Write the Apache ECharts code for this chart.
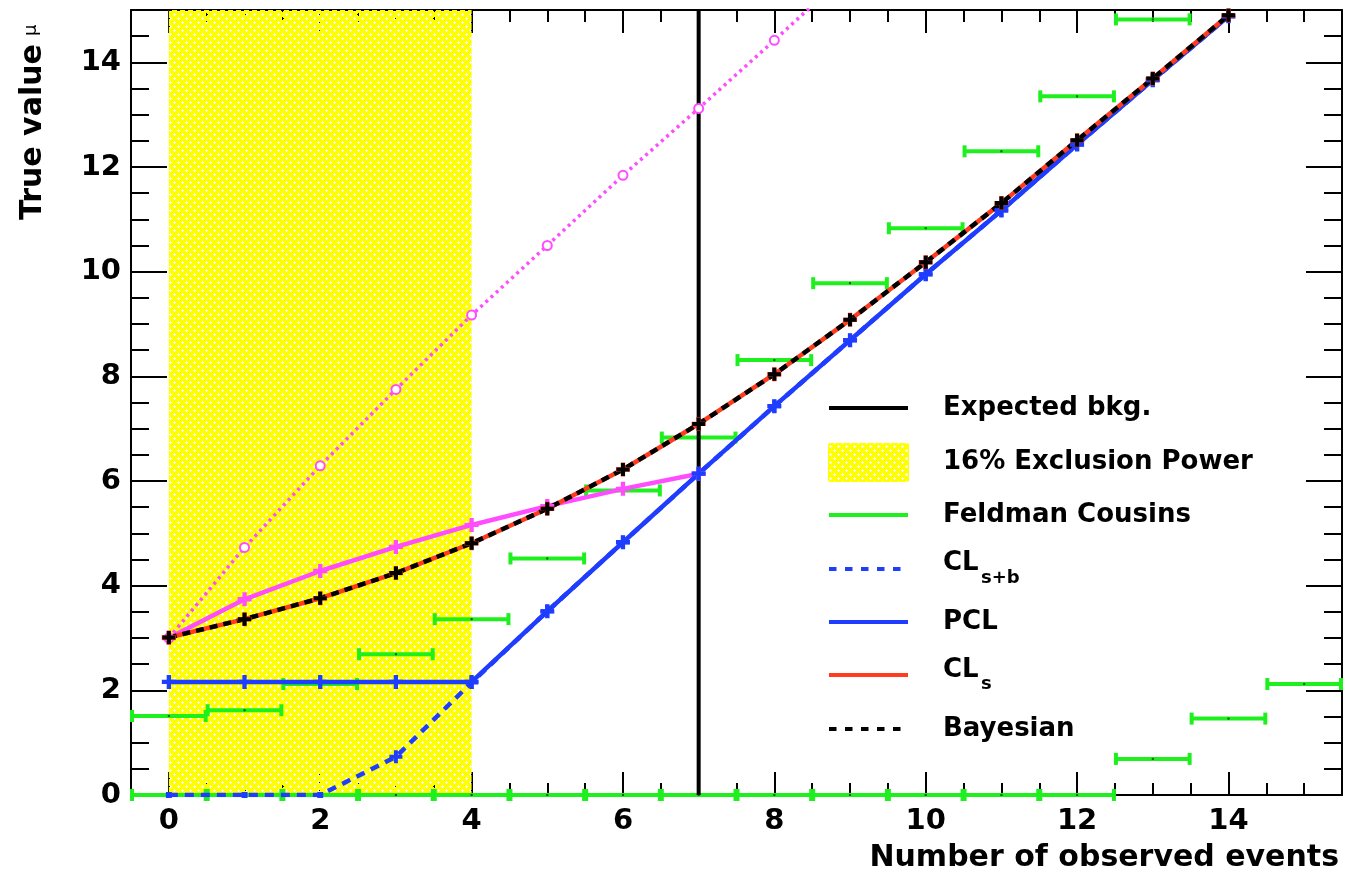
<!DOCTYPE html>
<html>
<head>
<meta charset="utf-8">
<script src="https://cdn.jsdelivr.net/npm/echarts@6/dist/echarts.min.js"></script>
<style>
  html, body { margin: 0; padding: 0; background: #ffffff; }
  #chart { width: 1346px; height: 878px; }
</style>
</head>
<body>
<div id="chart"></div>
<script>
// ---- data ----
const observedEvents = [0, 1, 2, 3, 4, 5, 6, 7, 8, 9, 10, 11, 12, 13, 14, 15];
const expectedBkg = 7;
const exclusionPowerRange = [0, 4];

const clsLimit      = [3.01, 3.36, 3.76, 4.24, 4.81, 5.47, 6.22, 7.09, 8.04, 9.08, 10.18, 11.31, 12.51, 13.69, 14.90];
const bayesianLimit = [3.01, 3.36, 3.76, 4.24, 4.81, 5.47, 6.22, 7.09, 8.04, 9.08, 10.18, 11.31, 12.51, 13.69, 14.90];
const clsbLimit     = [0, 0, 0, 0.73, 2.15, 3.51, 4.83, 6.14, 7.43, 8.69, 9.95, 11.17, 12.43, 13.66, 14.88];
const pclLimit      = [2.16, 2.16, 2.16, 2.16, 2.16, 3.51, 4.83, 6.14, 7.43, 8.69, 9.95, 11.17, 12.43, 13.66, 14.88];
const magentaLimit       = [3.00, 3.74, 4.28, 4.74, 5.16, 5.52, 5.85, 6.14];
const magentaDottedLimit = [3.00, 4.73, 6.29, 7.75, 9.17, 10.50, 11.84, 13.12, 14.42, 15.75];
const fcUpper = [1.51, 1.62, 2.12, 2.69, 3.36, 4.52, 5.82, 6.83, 8.31, 9.78, 10.83, 12.30, 13.35, 14.82];
const fcLower = [0, 0, 0, 0, 0, 0, 0, 0, 0, 0, 0, 0, 0, 0.69, 1.46, 2.12];

const xMajorTicks = [0, 2, 4, 6, 8, 10, 12, 14];
const yMajorTicks = [0, 2, 4, 6, 8, 10, 12, 14];

// ---- styling helpers ----
const FONT = '"DejaVu Sans", sans-serif';
const C_BLUE = '#1f3dff';
const C_RED = '#ff3c1e';
const C_GREEN = '#1ef01e';
const C_MAGENTA = '#ff4cff';
const LW = 4.5;

function minorsBetween(lo, hi, step, majors) {
  const out = [];
  for (let v = lo; v <= hi + 1e-9; v += step) {
    const r = Math.round(v * 100) / 100;
    if (!majors.includes(r)) out.push(r);
  }
  return out;
}
const xMinorTicks = minorsBetween(0, 15, 0.5, xMajorTicks);
const yMinorTicks = minorsBetween(0.5, 14.5, 0.5, yMajorTicks);

// Yellow hatch with transparent holes
function hatchPattern() {
  const c = document.createElement('canvas');
  c.width = 8; c.height = 8;
  const g = c.getContext('2d');
  g.fillStyle = '#ffff00';
  g.fillRect(0, 0, 8, 8);
  g.clearRect(1, 2, 3, 1); g.clearRect(2, 1, 1, 3);
  g.clearRect(5, 6, 3, 1); g.clearRect(6, 5, 1, 3);
  return c;
}
const hatch = { image: hatchPattern(), repeat: 'repeat' };

const plusSymbol = 'path://M4.5,0H8.5V4.5H13V8.5H8.5V13H4.5V8.5H0V4.5H4.5Z';

const pairs = (xs, ys) => ys.map((y, i) => [xs[i], y]);

function axisBase(pos, show) {
  const horiz = pos === 'bottom' || pos === 'top';
  return {
    type: 'value', position: pos, gridIndex: 0,
    min: horiz ? -0.5 : 0,
    max: horiz ? 15.5 : 15,
    splitLine: { show: false },
    axisLine: { show: show, onZero: false, lineStyle: { color: '#000', width: 2 } },
  };
}
function tickAxis(pos, values, len, labels, frame) {
  const a = axisBase(pos, !!frame);
  a.axisTick = { show: true, inside: true, length: len, customValues: values, lineStyle: { color: '#000', width: 2 } };
  if (labels) {
    a.axisLabel = Object.assign({ show: true, customValues: values, color: '#000',
      fontFamily: FONT, fontWeight: 'bold', fontSize: 29 }, labels);
  } else {
    a.axisLabel = { show: false };
  }
  return a;
}

// Feldman-Cousins style horizontal bars with end caps
function fcRender(params, api) {
  const x = api.value(0), y = api.value(1);
  const a = api.coord([x - 0.5, y]);
  const b = api.coord([x + 0.5, y]);
  const m = api.coord([x, y]);
  const st = { stroke: C_GREEN, lineWidth: 4 };
  return {
    type: 'group',
    children: [
      { type: 'line', shape: { x1: a[0], y1: a[1], x2: b[0], y2: b[1] }, style: st },
      { type: 'line', shape: { x1: a[0] + 1, y1: a[1] - 6, x2: a[0] + 1, y2: a[1] + 6 }, style: st },
      { type: 'line', shape: { x1: b[0] - 1, y1: b[1] - 6, x2: b[0] - 1, y2: b[1] + 6 }, style: st },
      { type: 'rect', shape: { x: m[0] - 1, y: m[1] - 1, width: 2, height: 2 }, style: { fill: '#105010' } }
    ]
  };
}

const fcData = pairs(observedEvents, fcUpper).concat(pairs(observedEvents, fcLower));

const chart = echarts.init(document.getElementById('chart'), null, { renderer: 'canvas' });

const option = {
  animation: false,
  backgroundColor: '#ffffff',
  grid: { left: 131, right: 4, top: 10, bottom: 83 },
  xAxis: [
    tickAxis('bottom', xMajorTicks, 23, { margin: 12 }, true),
    tickAxis('bottom', xMinorTicks, 12),
    tickAxis('top', xMajorTicks, 23, undefined, true),
    tickAxis('top', xMinorTicks, 12)
  ],
  yAxis: [
    tickAxis('left', yMajorTicks, 36, { margin: 10 }, true),
    tickAxis('left', yMinorTicks, 18),
    tickAxis('right', yMajorTicks, 36, undefined, true),
    tickAxis('right', yMinorTicks, 18)
  ],
  series: [
    {
      name: '16% Exclusion Power', type: 'line', data: [], z: 1,
      markArea: {
        silent: true,
        itemStyle: { color: hatch },
        data: [[{ xAxis: exclusionPowerRange[0], yAxis: 0 }, { xAxis: exclusionPowerRange[1], yAxis: 15 }]]
      }
    },
    {
      name: 'CLs+b', type: 'line', data: pairs(observedEvents, clsbLimit),
      lineStyle: { color: C_BLUE, width: LW, type: [9, 7] },
      itemStyle: { color: C_BLUE },
      // points sitting on the axis show only as small squares
      symbol: (v) => (v[1] === 0 ? 'rect' : plusSymbol),
      symbolSize: (v) => (v[1] === 0 ? 6 : 13)
    },
    {
      name: 'Feldman Cousins', type: 'custom', renderItem: fcRender, data: fcData,
      encode: { x: 0, y: 1 }
    },
    {
      name: 'Expected bkg.', type: 'line', data: [[expectedBkg, 0], [expectedBkg, 15]],
      showSymbol: false, symbol: 'none',
      lineStyle: { color: '#000', width: 4 }
    },
    {
      name: 'magenta dotted', type: 'line', data: pairs(observedEvents, magentaDottedLimit),
      lineStyle: { color: C_MAGENTA, width: 3.5, type: [3, 4] },
      symbol: 'emptyCircle', symbolSize: 9,
      itemStyle: { color: C_MAGENTA, borderWidth: 2 }
    },
    {
      name: 'magenta', type: 'line', data: pairs(observedEvents, magentaLimit),
      lineStyle: { color: C_MAGENTA, width: LW },
      itemStyle: { color: C_MAGENTA }, symbol: plusSymbol, symbolSize: 14
    },
    {
      name: 'PCL', type: 'line', data: pairs(observedEvents, pclLimit),
      lineStyle: { color: C_BLUE, width: LW },
      itemStyle: { color: C_BLUE }, symbol: plusSymbol, symbolSize: 14
    },
    {
      name: 'CLs', type: 'line', data: pairs(observedEvents, clsLimit),
      lineStyle: { color: C_RED, width: LW },
      itemStyle: { color: C_RED }, symbol: plusSymbol, symbolSize: 14
    },
    {
      name: 'Bayesian', type: 'line', data: pairs(observedEvents, bayesianLimit),
      lineStyle: { color: '#000', width: LW, type: [8, 6] },
      itemStyle: { color: '#000' }, symbol: plusSymbol, symbolSize: 13
    }
  ],
  graphic: (function () {
    const els = [];
    const lx1 = 829, lx2 = 908, tx = 943;
    const txt = (x, y, s, size, extra) => ({
      type: 'text', x: x, y: y, silent: true,
      style: Object.assign({ text: s, fill: '#000', font: 'bold ' + size + 'px ' + FONT,
        align: 'left', verticalAlign: 'middle' }, extra || {})
    });
    const line = (y, color, dash) => ({
      type: 'line', silent: true,
      shape: { x1: lx1, y1: y, x2: lx2, y2: y },
      style: { stroke: color, lineWidth: 4, lineDash: dash || null }
    });
    // legend rows
    els.push(line(408, '#000'));
    els.push(txt(tx, 408, 'Expected bkg.', 26));
    els.push({ type: 'rect', silent: true, shape: { x: 828, y: 443, width: 81, height: 39, r: 2 }, style: { fill: hatch } });
    els.push(txt(tx, 462, '16% Exclusion Power', 26));
    els.push(line(515, C_GREEN));
    els.push(txt(tx, 515, 'Feldman Cousins', 26));
    els.push(line(569, C_BLUE, [7.5, 8.5]));
    els.push(txt(tx, 563, 'CL', 26));
    els.push(txt(tx + 38, 578, 's+b', 18));
    els.push(line(622, C_BLUE));
    els.push(txt(tx, 622, 'PCL', 26));
    els.push(line(675, C_RED));
    els.push(txt(tx, 670, 'CL', 26));
    els.push(txt(tx + 38, 684, 's', 18));
    els.push(line(729, '#000', [7.5, 8.5]));
    els.push(txt(tx, 729, 'Bayesian', 26));
    // axis titles
    els.push(txt(1339, 858, 'Number of observed events', 30, { align: 'right' }));
    els.push({
      type: 'text', x: 33, y: 220, rotation: Math.PI / 2, silent: true,
      style: { text: 'True value', fill: '#000', font: 'bold 30px ' + FONT, align: 'left', verticalAlign: 'middle' }
    });
    els.push({
      type: 'text', x: 31, y: 36, rotation: Math.PI / 2, silent: true,
      style: { text: 'μ', fill: '#000', font: '18px ' + FONT, align: 'left', verticalAlign: 'middle' }
    });
    return els;
  })()
};

chart.setOption(option);
</script>
</body>
</html>
